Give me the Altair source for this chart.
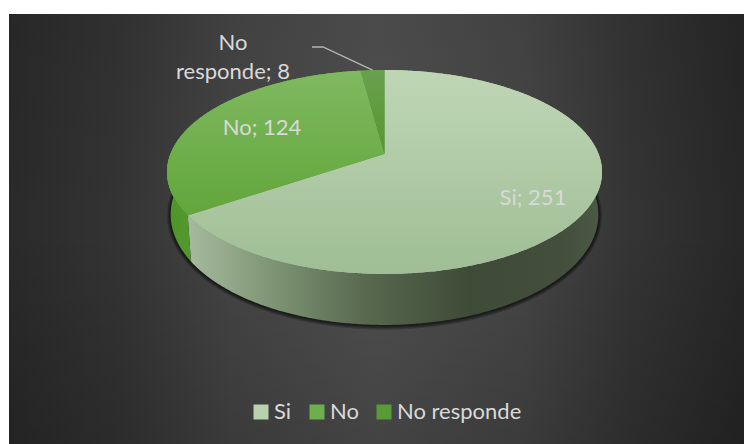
import math
import altair as alt

categories = ["Si", "No", "No responde"]
counts = [251, 124, 8]
legend_colors = ["#b8d2ae", "#6fae4c", "#5b9a38"]

FONT = "Lato"
TEXT = "#d9d9d9"

# Perspective disc: the hub sits above the ellipse's middle because the far rim recedes.
CX, CY = 384.5, 154.0
TOP = dict(b=214.1, a=98.8, k=0.1765, dy=0.0)
BASE = dict(b=210.5, a=107.0, k=0.1765, dy=41.0)


def rim(deg, disc, grow=0.0, shift=0.0):
    t = math.radians(deg)
    u, v = math.sin(t), math.cos(t)
    w = 1 + disc["k"] * v
    x = CX + (disc["b"] + grow) * u / w
    y = CY + disc["dy"] + shift - (disc["a"] + grow) * v / w
    return [round(x, 2), round(y, 2)]


def arc(d0, d1, disc, **kw):
    n = max(2, int(abs(d1 - d0)) * 2)
    return [rim(d0 + (d1 - d0) * i / n, disc, **kw) for i in range(n + 1)]


def polygon(points, **props):
    return {
        "type": "Feature",
        "properties": props,
        "geometry": {"type": "Polygon", "coordinates": [points + [points[0]]]},
    }


def vgrad(c0, c1):
    return alt.LinearGradient(
        gradient="linear", x1=0, y1=0, x2=0, y2=1,
        stops=[alt.GradientStop(offset=0, color=c0), alt.GradientStop(offset=1, color=c1)],
    )


def hgrad(*stops):
    return alt.LinearGradient(
        gradient="linear", x1=0, y1=0, x2=1, y2=0,
        stops=[alt.GradientStop(offset=o, color=c) for o, c in stops],
    )


total = sum(counts)
edges = [0.0]
for c in counts:
    edges.append(edges[-1] + 360.0 * c / total)

identity = dict(type="identity", scale=1, translate=[0, 0])
geo_data = lambda feats: alt.Data(values=feats, format=alt.DataFormat(type="json"))

# Backdrop: bright centre fading to dark sides, with a soft vertical falloff.
backdrop = alt.Chart(alt.Data(values=[{"k": 0}])).mark_rect(
    fill=hgrad(
        (0, "#2a2a2a"), (0.15, "#343434"), (0.3, "#454545"), (0.5, "#505050"),
        (0.7, "#464646"), (0.85, "#343434"), (1, "#272727"),
    )
).encode(x=alt.value(9), x2=alt.value(744), y=alt.value(14), y2=alt.value(444))
vignette = alt.Chart(alt.Data(values=[{"k": 0}])).mark_rect(
    fill=alt.LinearGradient(
        gradient="linear", x1=0, y1=0, x2=0, y2=1,
        stops=[
            alt.GradientStop(offset=0, color="rgba(0,0,0,0.07)"),
            alt.GradientStop(offset=0.5, color="rgba(0,0,0,0)"),
            alt.GradientStop(offset=1, color="rgba(0,0,0,0.16)"),
        ],
    )
).encode(x=alt.value(9), x2=alt.value(744), y=alt.value(14), y2=alt.value(444))

# Soft contact shadow: stacked, growing copies of the base disc.
shadows = [
    alt.Chart(geo_data([polygon(arc(0, 360, BASE, grow=g, shift=s))]))
    .mark_geoshape(fill="#000000", fillOpacity=0.2, strokeWidth=0)
    .project(**identity)
    for g, s in [(3.5, 0.5), (2.5, 0.5), (1.6, 0.5), (0.8, 0.5)]
]

# Side walls: each runs from the top rim down to the base rim.
si_wall = polygon(arc(60, edges[1], TOP) + arc(edges[1], 60, BASE))
no_wall = polygon(arc(edges[1], 300, TOP) + arc(300, edges[1], BASE))
wall_si = alt.Chart(geo_data([si_wall])).mark_geoshape(
    fill=hgrad(
        (0, "#a6bb9e"), (0.2, "#7f9575"), (0.42, "#596a50"),
        (0.68, "#3e4b37"), (0.9, "#434f3c"), (1, "#4b5945"),
    ),
    strokeWidth=0,
).project(**identity)
wall_no = alt.Chart(geo_data([no_wall])).mark_geoshape(
    fill=hgrad((0, "#4f9428"), (1, "#5a9e33")), strokeWidth=0
).project(**identity)

# Top face: one wedge per category, each drawn from its count.
wedges = [
    polygon(arc(edges[i], edges[i + 1], TOP) + [[CX, CY]], name=categories[i])
    for i in range(len(categories))
]
faces = alt.Chart(geo_data(wedges)).mark_geoshape(strokeWidth=0).encode(
    color=alt.Color(
        "properties.name:N",
        scale=alt.Scale(domain=categories, range=legend_colors),
        legend=alt.Legend(
            title=None, orient="none", legendX=250, legendY=401, direction="horizontal",
            symbolType="square", symbolSize=225, symbolStrokeWidth=0, symbolOpacity=1,
            labelFont=FONT, labelFontSize=22, labelColor=TEXT, labelOffset=2,
            columnPadding=14, clipHeight=22,
        ),
    )
).project(**identity)

face_shades = [("#bfd6b5", "#9fbe95"), ("#7fb961", "#62a63a"), ("#6a9f50", "#55982f")]
shaded = [
    alt.Chart(geo_data([w])).mark_geoshape(fill=vgrad(*s), strokeWidth=0).project(**identity)
    for w, s in zip(wedges, face_shades)
]

# Leader from the small slice's rim midpoint to its outside label.
elbow = [[312, 47], [323, 47]]
leader_end = rim((edges[2] + edges[3]) / 2, TOP)
leader = alt.Chart(geo_data([{
    "type": "Feature", "properties": {},
    "geometry": {"type": "LineString", "coordinates": elbow + [leader_end]},
}])).mark_geoshape(filled=False, stroke="#b5b5b5", strokeWidth=1.3).project(**identity)

# Data labels, "category; count".
label_text = [f"{c}; {n}" for c, n in zip(categories, counts)]
label_text[2] = label_text[2].replace(" ", "\n", 1)
label_x = [533, 262, 233]
label_y = [198, 128, 43]
labels = alt.Chart(alt.Data(values=[
    {"t": t, "x": x, "y": y} for t, x, y in zip(label_text, label_x, label_y)
])).mark_text(
    font=FONT, fontSize=22, color=TEXT, lineBreak="\n", lineHeight=29, align="center", baseline="middle"
).encode(
    x=alt.X("x:Q", scale=None), y=alt.Y("y:Q", scale=None), text="t:N"
)

chart = alt.layer(
    backdrop, vignette, *shadows, wall_si, wall_no, faces, *shaded, leader, labels
).properties(
    width=744, height=444, padding=0, background="#ffffff",
    autosize=alt.AutoSizeParams(type="none"),
).configure_view(stroke=None)

chart.save("out.html", embed_options={"renderer": "svg", "actions": False})
